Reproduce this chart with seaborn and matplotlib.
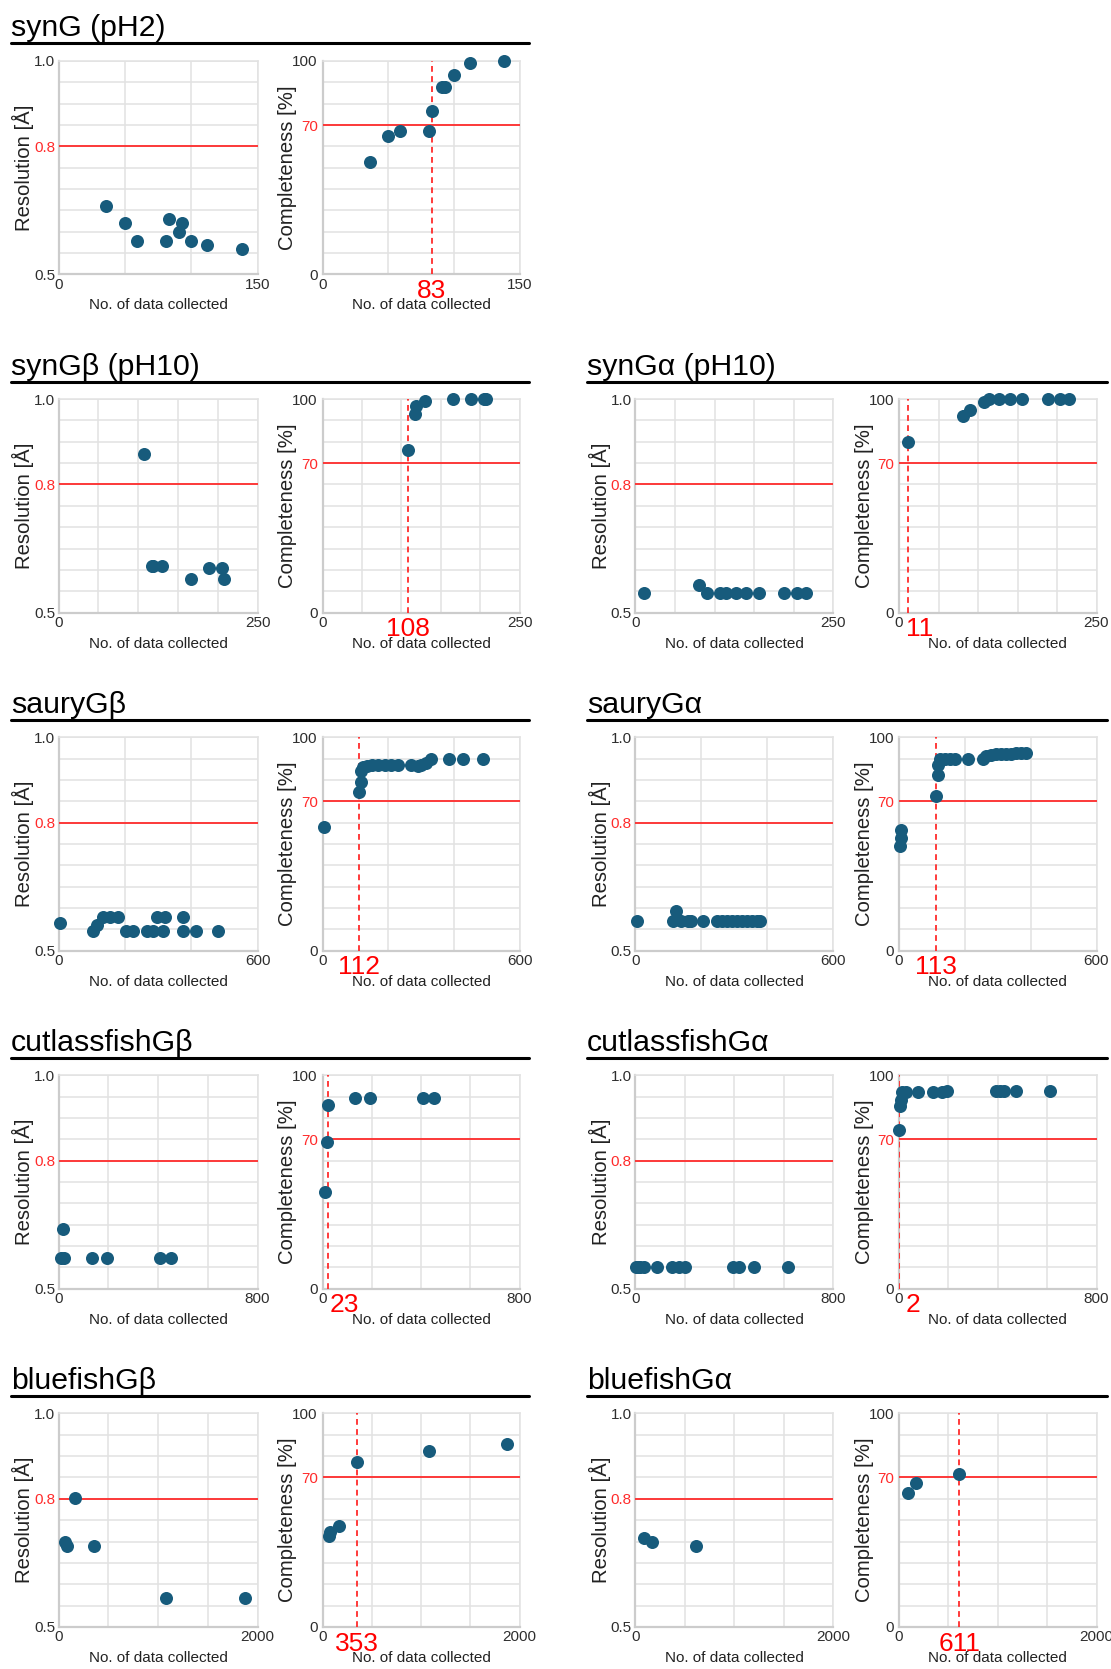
import numpy as np
import matplotlib
matplotlib.use("Agg")
import matplotlib.pyplot as plt
import seaborn as sns
from matplotlib.lines import Line2D
import matplotlib.transforms as mtransforms

# ---------------- data ----------------
# synG (pH2)
synG_res_n = [36, 50, 59, 81, 83, 91, 93, 100, 112, 138]
synG_res = [0.661, 0.620, 0.579, 0.579, 0.630, 0.600, 0.620, 0.579, 0.569, 0.560]
synG_comp_n = [36, 50, 59, 81, 83, 91, 93, 100, 112, 138]
synG_comp = [52.6, 65.1, 67.3, 67.3, 76.5, 87.9, 87.9, 93.4, 99.2, 100]
synG_thr = 83

# synGbeta (pH10)
synGb_res_n = [108, 117, 119, 130, 166, 189, 205, 208]
synGb_res = [0.871, 0.608, 0.608, 0.608, 0.578, 0.604, 0.604, 0.578]
synGb_comp_n = [108, 117, 119, 130, 166, 189, 205, 208]
synGb_comp = [76, 93, 97, 99, 100, 100, 100, 100]
synGb_thr = 108

# synGalpha (pH10)
synGa_res_n = [11, 81, 90, 107, 114, 127, 140, 156, 188, 204, 215]
synGa_res = [0.545, 0.565, 0.545, 0.545, 0.545, 0.545, 0.545, 0.545, 0.545, 0.545, 0.545]
synGa_comp_n = [11, 81, 90, 107, 114, 127, 140, 156, 188, 204, 215]
synGa_comp = [80, 92, 95, 98.5, 100, 100, 100, 100, 100, 100, 100]
synGa_thr = 11

# sauryGbeta
sauryGb_res_n = [5, 105, 115, 135, 155, 180, 205, 226, 266, 286, 296, 316, 321,
                 376, 376, 416, 481]
sauryGb_res = [0.565, 0.546, 0.561, 0.578, 0.578, 0.578, 0.546, 0.546, 0.546, 0.546,
               0.578, 0.546, 0.578, 0.578, 0.546, 0.546, 0.546]
sauryGb_comp_n = [5, 112, 118, 118, 122, 135, 150, 170, 190, 210, 230, 270, 290, 300,
                  315, 330, 385, 428, 490]
sauryGb_comp = [58, 74.4, 79.2, 84, 86, 86.5, 87.1, 87.1, 87.1, 87.1, 87.1, 87, 86.5,
                87, 88, 89.6, 89.6, 89.6, 89.6]
sauryGb_thr = 112

# sauryGalpha
sauryGa_res_n = [5, 114, 124, 139, 159, 169, 204, 249, 264, 279, 294, 309, 324, 339,
                 354, 369, 379]
sauryGa_res = [0.570, 0.570, 0.593, 0.570, 0.570, 0.570, 0.570, 0.570, 0.570, 0.570,
               0.570, 0.570, 0.570, 0.570, 0.570, 0.570, 0.570]
sauryGa_comp_n = [2, 5, 5, 113, 119, 119, 125, 140, 155, 170, 210, 255, 265, 280, 295,
                  310, 325, 340, 355, 370, 385]
sauryGa_comp = [49, 53, 56.5, 72.4, 82.3, 87, 89.6, 89.6, 89.6, 89.6, 89.6, 89.8, 91,
                91.5, 92, 92, 92.3, 92.3, 92.5, 92.5, 92.5]
sauryGa_thr = 113

# cutlassfishGbeta
cutGb_res_n = [12, 20, 23, 134, 193, 410, 452]
cutGb_res = [0.571, 0.641, 0.571, 0.571, 0.571, 0.571, 0.571]
cutGb_comp_n = [12, 20, 23, 134, 193, 410, 452]
cutGb_comp = [45.3, 68.9, 86.3, 89.4, 89.4, 89.4, 89.4]
cutGb_thr = 23

# cutlassfishGalpha
cutGa_res_n = [2, 11, 21, 35, 86, 149, 178, 202, 396, 417, 480, 615]
cutGa_res = [0.55] * 12
cutGa_comp_n = [2, 4, 7, 11, 28, 76, 137, 176, 193, 391, 410, 426, 474, 613]
cutGa_comp = [74.3, 85.5, 88.3, 92, 92.2, 92, 92, 92, 92.7, 92.7, 92.7, 92.7, 92.7, 92.7]
cutGa_thr = 2

# bluefishGbeta
blueGb_res_n = [64, 81, 163, 353, 1085, 1875]
blueGb_res = [0.699, 0.689, 0.801, 0.690, 0.567, 0.567]
blueGb_comp_n = [64, 81, 163, 353, 1085, 1875]
blueGb_comp = [42.7, 44.5, 47.3, 77.3, 82.5, 85.6]
blueGb_thr = 353

# bluefishGalpha
blueGa_res_n = [92, 170, 611]
blueGa_res = [0.709, 0.698, 0.689]
blueGa_comp_n = [92, 170, 611]
blueGa_comp = [62.5, 67.2, 71.6]
blueGa_thr = 611

# ---------------- styling ----------------
sns.set_theme(style="white")
plt.rcParams["font.family"] = ["Liberation Sans", "DejaVu Sans"]

W, H = 1111, 1669
fig = plt.figure(figsize=(W / 100, H / 100), dpi=100)

BLUE = "#175b7c"
RED = "#ff2b2b"
GRID = "#e2e2e2"
SPINE = "#cccccc"

ROW_TOP0 = 61.0
ROW_STEP = 338.1
AX_H = 213.5
GROUP_X = [(58.5, 199.0, 322.5, 197.0), (635.3, 198.0, 899.0, 197.5)]
LINE_X = [(11, 529), (587, 1107)]

panels = [
    ("synG (pH2)", 0, 0, 150, 50, synG_res_n, synG_res, synG_comp_n, synG_comp, synG_thr),
    ("synG\u03b2 (pH10)", 1, 0, 250, 50, synGb_res_n, synGb_res, synGb_comp_n, synGb_comp, synGb_thr),
    ("synG\u03b1 (pH10)", 1, 1, 250, 50, synGa_res_n, synGa_res, synGa_comp_n, synGa_comp, synGa_thr),
    ("sauryG\u03b2", 2, 0, 600, 200, sauryGb_res_n, sauryGb_res, sauryGb_comp_n, sauryGb_comp, sauryGb_thr),
    ("sauryG\u03b1", 2, 1, 600, 200, sauryGa_res_n, sauryGa_res, sauryGa_comp_n, sauryGa_comp, sauryGa_thr),
    ("cutlassfishG\u03b2", 3, 0, 800, 200, cutGb_res_n, cutGb_res, cutGb_comp_n, cutGb_comp, cutGb_thr),
    ("cutlassfishG\u03b1", 3, 1, 800, 200, cutGa_res_n, cutGa_res, cutGa_comp_n, cutGa_comp, cutGa_thr),
    ("bluefishG\u03b2", 4, 0, 2000, 500, blueGb_res_n, blueGb_res, blueGb_comp_n, blueGb_comp, blueGb_thr),
    ("bluefishG\u03b1", 4, 1, 2000, 500, blueGa_res_n, blueGa_res, blueGa_comp_n, blueGa_comp, blueGa_thr),
]


def px_axes(x0, y0, w, h):
    return fig.add_axes([x0 / W, 1 - (y0 + h) / H, w / W, h / H])


def style_axes(ax, xmax, xstep, kind):
    ax.set_xlim(0, xmax)
    xt = np.arange(0, xmax + 1, xstep)
    ax.set_xticks(xt)
    ax.set_xticklabels([str(int(v)) if v in (0, xmax) else "" for v in xt])
    if kind == "res":
        ax.set_ylim(0.5, 1.0)
        yt = np.round(np.linspace(0.5, 1.0, 11), 2)
        lab = {0.5: "0.5", 0.8: "0.8", 1.0: "1.0"}
        ax.set_yticks(yt)
        ax.set_yticklabels([lab.get(float(v), "") for v in yt])
        hl = 0.8
        red_lab = "0.8"
        ax.set_ylabel("Resolution [\u00c5]", fontsize=14.6, color="#222222")
        ax.yaxis.set_label_coords(-0.125, 0.5)
        ypad = 2.4
    else:
        ax.set_ylim(0, 100)
        yt = np.arange(0, 101, 10)
        lab = {0: "0", 70: "70", 100: "100"}
        ax.set_yticks(yt)
        ax.set_yticklabels([lab.get(int(v), "") for v in yt])
        hl = 70
        red_lab = "70"
        ax.set_ylabel("Completeness [%]", fontsize=14.6, color="#222222")
        ax.yaxis.set_label_coords(-0.128, 0.5)
        ypad = 3.4
    ax.set_xlabel("No. of data collected", fontsize=11, color="#222222")
    ax.xaxis.set_label_coords(0.5, -0.112)
    ax.tick_params(axis="y", length=0, pad=ypad, labelsize=11, labelcolor="#2e2e2e")
    ax.tick_params(axis="x", length=0, pad=2.4, labelsize=11, labelcolor="#2e2e2e")
    for t in ax.get_yticklabels():
        if t.get_text() == red_lab:
            t.set_color(RED)
    ax.grid(True, color=GRID, lw=1.1)
    ax.set_axisbelow(True)
    for s in ("left", "bottom"):
        ax.spines[s].set_color(SPINE)
        ax.spines[s].set_linewidth(1.6)
    for s in ("top", "right"):
        ax.spines[s].set_color(GRID)
        ax.spines[s].set_linewidth(1.1)
    ax.axhline(hl, color=RED, lw=1.3, zorder=3)


thr_texts = []
for title, row, grp, xmax, xstep, rn, rv, cn, cv, thr in panels:
    top = ROW_TOP0 + row * ROW_STEP
    rx, rw, cx, cw = GROUP_X[grp]
    lx0, lx1 = LINE_X[grp]

    # group title and underline
    fig.text(lx0 / W, 1 - (top - 24.5) / H, title, fontsize=21.8, color="black",
             ha="left", va="baseline")
    fig.add_artist(Line2D([lx0 / W, lx1 / W], [1 - (top - 17.5) / H] * 2,
                          color="black", lw=2.2, transform=fig.transFigure))

    ax_r = px_axes(rx, top, rw, AX_H)
    style_axes(ax_r, xmax, xstep, "res")
    sns.scatterplot(x=rn, y=rv, ax=ax_r, s=88, color=BLUE, linewidth=0,
                    clip_on=False, zorder=5, legend=False)

    ax_c = px_axes(cx, top, cw, AX_H)
    style_axes(ax_c, xmax, xstep, "comp")
    ax_c.axvline(thr, color=RED, lw=1.3, ls=(0, (3.2, 2.4)), zorder=3)
    sns.scatterplot(x=cn, y=cv, ax=ax_c, s=88, color=BLUE, linewidth=0,
                    clip_on=False, zorder=5, legend=False)
    trans = mtransforms.blended_transform_factory(ax_c.transData, ax_c.transAxes)
    t = ax_c.text(thr, -0.078, str(thr), transform=trans, color="#ff0000",
                  fontsize=19, ha="center", va="center", zorder=6)
    thr_texts.append((ax_c, t, thr, trans))

# keep threshold labels from running into the "0" tick label
fig.canvas.draw()
renderer = fig.canvas.get_renderer()
for ax_c, t, thr, trans in thr_texts:
    bb = t.get_window_extent(renderer)
    ax_bb = ax_c.get_window_extent(renderer)
    limit = ax_bb.x0 + 7
    if bb.x0 < limit:
        new_cx = limit + bb.width / 2
        new_x = ax_c.transData.inverted().transform((new_cx, 0))[0]
        t.set_x(new_x)

fig.savefig("out.png", dpi=100)
